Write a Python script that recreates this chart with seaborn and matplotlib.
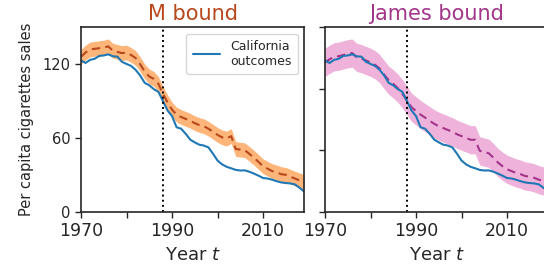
import numpy as np
import pandas as pd
import seaborn as sns
import matplotlib.pyplot as plt

years = list(range(1970, 2020))

california = [123.0, 121.0, 123.5, 124.4, 126.7, 127.1, 128.0, 126.4, 126.1, 121.9,
              120.2, 118.6, 115.4, 110.8, 104.8, 102.8, 99.7, 97.5, 90.1, 82.4,
              77.8, 68.7, 67.5, 63.4, 58.6, 56.4, 54.5, 53.8, 52.3, 47.2,
              41.6, 38.5, 36.5, 35.3, 34.0, 33.5, 33.6, 32.5, 31.0, 29.3,
              27.4, 27.0, 26.0, 24.8, 23.8, 23.3, 23.0, 22.2, 19.5, 16.5]

m_bound = [126.0, 129.5, 132.0, 132.5, 133.0, 133.5, 134.5, 131.0, 130.0, 129.0,
           129.5, 127.5, 125.0, 120.0, 114.0, 110.0, 108.0, 104.0, 96.0, 89.0,
           83.0, 79.0, 77.0, 75.5, 74.0, 72.0, 70.5, 69.5, 67.5, 65.0,
           62.5, 60.5, 59.5, 61.5, 51.0, 50.5, 50.0, 47.0, 44.0, 40.5,
           37.0, 35.0, 33.0, 32.0, 30.5, 30.0, 28.5, 27.0, 25.5, 24.5]

james_bound = [121.5, 124.0, 126.0, 126.5, 127.5, 128.5, 129.0, 125.5, 124.5, 123.0,
               121.5, 119.5, 116.5, 111.5, 107.0, 104.0, 100.5, 96.0, 90.5, 85.0,
               82.0, 79.0, 76.5, 74.0, 71.5, 69.5, 68.0, 66.5, 65.0, 63.0,
               61.5, 60.0, 58.5, 58.5, 49.5, 48.5, 47.5, 44.0, 40.0, 37.0,
               34.5, 33.0, 31.5, 30.5, 29.0, 28.5, 27.5, 26.0, 25.0, 24.5]

# half widths of the shaded bands
m_halfwidth = 6.0
james_halfwidth = 11.5

treatment_year = 1988

df = pd.DataFrame({'year': years, 'california': california,
                   'm': m_bound, 'james': james_bound})

sns.set_style('ticks')
plt.rcParams['font.family'] = ['DejaVu Sans']

fig = plt.figure(figsize=(5.44, 2.73), dpi=100)
ax1 = fig.add_axes([81 / 544, 61.3 / 273, 223 / 544, 184.4 / 273])
ax2 = fig.add_axes([325 / 544, 61.3 / 273, 223 / 544, 184.4 / 273])

panels = [
    (ax1, 'm', m_halfwidth, 'M bound', '#b8481c', '#fdb57a', [0, 60, 120]),
    (ax2, 'james', james_halfwidth, 'James bound', '#a3358a', '#efb3db', [0, 50, 100, 150]),
]

for ax, col, hw, title, dark, light, yt in panels:
    ax.fill_between(df['year'], df[col] - hw, df[col] + hw, color=light, lw=0)
    sns.lineplot(data=df, x='year', y=col, ax=ax, color=dark, lw=1.5,
                 linestyle=(0, (4, 2.5)))
    sns.lineplot(data=df, x='year', y='california', ax=ax, color='#1f77b4', lw=1.5,
                 label='California\noutcomes')
    ax.axvline(treatment_year, color='black', ls=':', lw=1.4)
    ax.set_xlim(1970, 2019)
    ax.set_ylim(0, 150)
    ax.set_xticks([1970, 1980, 1990, 2000, 2010])
    ax.set_xticklabels(['1970', '', '1990', '', '2010'])
    ax.set_yticks(yt)
    ax.tick_params(axis='x', labelsize=12.5, length=4, width=1)
    ax.tick_params(axis='y', labelsize=10.5, length=4, width=1)
    ax.set_title(title, color=dark, fontsize=15, pad=5)
    ax.set_xlabel('Year $t$', fontsize=13)
    ax.set_ylabel('')
    for s in ax.spines.values():
        s.set_linewidth(1.2)
        s.set_color('#262626')

ax1.set_ylabel('Per capita cigarettes sales', fontsize=10.5, labelpad=6)
ax1.legend(loc='upper right', fontsize=9, handlelength=2.2, borderpad=0.5)
ax2.get_legend().remove()
ax2.set_yticklabels([])

fig.savefig('out.png', dpi=100)
